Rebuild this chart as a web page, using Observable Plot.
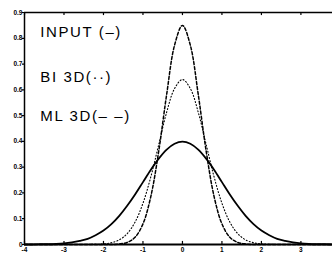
<!DOCTYPE html>
<html>
<head>
<meta charset="utf-8">
<script src="https://cdn.jsdelivr.net/npm/d3@7"></script>
<script src="https://cdn.jsdelivr.net/npm/@observablehq/plot@0.6"></script>
<style>
  html, body { margin: 0; padding: 0; background: #fff; }
  #chart svg { display: block; }
  #chart g[aria-label="text"] text { letter-spacing: 1.6px; }
</style>
</head>
<body>
<div id="chart"></div>
<script>
// Sample positions along x
const xs = [-4.0,-3.8,-3.6,-3.4,-3.2,-3.0,-2.8,-2.6,-2.4,-2.2,-2.0,-1.8,-1.6,-1.4,-1.2,-1.0,-0.8,-0.6,-0.4,-0.2,
            0.0,0.2,0.4,0.6,0.8,1.0,1.2,1.4,1.6,1.8,2.0,2.2,2.4,2.6,2.8,3.0,3.2,3.4,3.6,3.8];
// INPUT (solid)
const inputVals = [0.000,0.000,0.001,0.001,0.002,0.004,0.008,0.014,0.022,0.036,0.054,0.079,0.111,0.150,0.194,0.242,0.290,0.333,0.368,0.391,
                   0.399,0.391,0.368,0.333,0.290,0.242,0.194,0.150,0.111,0.079,0.054,0.036,0.022,0.014,0.008,0.004,0.002,0.001,0.001,0.000];
// BI 3D (dotted)
const biVals = [0,0,0,0,0,0,0,0,0,0.001,0.002,0.007,0.018,0.042,0.087,0.160,0.263,0.388,0.513,0.605,
                0.640,0.605,0.513,0.388,0.263,0.160,0.087,0.042,0.018,0.007,0.002,0.001,0,0,0,0,0,0,0,0];
// ML 3D (dashed)
const mlVals = [0,0,0,0,0,0,0,0,0,0,0,0,0.002,0.008,0.028,0.080,0.187,0.363,0.582,0.773,
                0.850,0.773,0.582,0.363,0.187,0.080,0.028,0.008,0.002,0,0,0,0,0,0,0,0,0,0,0];
const xTicks = [-4,-3,-2,-1,0,1,2,3];
const yTicks = [0,0.1,0.2,0.3,0.4,0.5,0.6,0.7,0.8,0.9];
const legendLabels = ["INPUT (\u2013)", "BI 3D(\u00b7\u00b7)", "ML 3D(\u2013 \u2013)"];

const rows = (vals) => xs.map((x, i) => ({x, y: vals[i]}));
const legendY = [0.824, 0.65, 0.497];

const chart = Plot.plot({
  width: 332,
  height: 255,
  marginLeft: 24,
  marginRight: 0,
  marginTop: 12,
  marginBottom: 11,
  x: {domain: [-4, 3.8], label: null},
  y: {domain: [0, 0.9], label: null},
  style: {fontFamily: "'Liberation Sans', Arial, sans-serif", background: "#fff", color: "#000"},
  marks: [
    Plot.axisY(yTicks, {tickSize: 2, tickPadding: 0, fontSize: 6.5, fontWeight: "bold", fill: "#000",
      tickFormat: d => d === 0 ? "0" : d.toFixed(1), strokeWidth: 1.2, label: null}),
    Plot.axisX(xTicks, {tickSize: 0, tickPadding: 3, fontSize: 6.5, fontWeight: "bold", fill: "#000",
      tickFormat: d => String(d), label: null}),
    Plot.ruleX(xTicks, {y1: 0, y2: 0.012, stroke: "#000", strokeWidth: 1.2}),
    Plot.ruleX(xTicks, {y1: 0.9, y2: 0.888, stroke: "#000", strokeWidth: 1.2}),
    Plot.ruleY([0.9], {stroke: "#000", strokeWidth: 1.5}),
    Plot.ruleY([0], {stroke: "#000", strokeWidth: 1.8}),
    Plot.ruleX([-4], {stroke: "#000", strokeWidth: 1.5}),
    Plot.line(rows(inputVals), {x: "x", y: "y", stroke: "#000", strokeWidth: 1.8, curve: "catmull-rom"}),
    Plot.line(rows(biVals), {x: "x", y: "y", stroke: "#000", strokeWidth: 1.1, strokeDasharray: "1,2.2", curve: "catmull-rom"}),
    Plot.line(rows(mlVals), {x: "x", y: "y", stroke: "#000", strokeWidth: 1.5, strokeDasharray: "3,2", curve: "catmull-rom"}),
    Plot.text(legendLabels, {x: () => -3.6, y: (d, i) => legendY[i], text: d => d,
      textAnchor: "start", fontSize: 15, fill: "#000"})
  ]
});
document.getElementById("chart").appendChild(chart);
</script>
</body>
</html>
